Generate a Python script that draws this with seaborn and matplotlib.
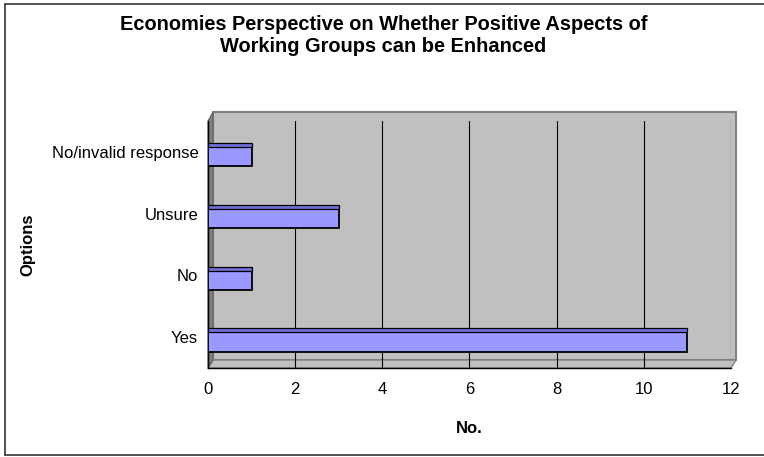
import matplotlib
matplotlib.use('Agg')
import matplotlib.pyplot as plt
import matplotlib.patches as mpatches
import matplotlib.lines as mlines
import seaborn as sns
import pandas as pd
import numpy as np

# chart data
options = ['No/invalid response', 'Unsure', 'No', 'Yes']
counts = [1, 3, 1, 11]
x_ticks = [0, 2, 4, 6, 8, 10, 12]

sns.set_style('white')
plt.rcParams['font.family'] = ['Liberation Sans', 'DejaVu Sans']
plt.rcParams['text.color'] = 'black'
plt.rcParams['axes.labelcolor'] = 'black'
plt.rcParams['xtick.color'] = 'black'
plt.rcParams['ytick.color'] = 'black'

W, H = 764, 457


def fx(x, y):
    """pixel position -> figure fraction"""
    return (x / W, 1 - y / H)


df = pd.DataFrame({'option': options, 'count': counts})

fig = plt.figure(figsize=(W / 100, H / 100), dpi=100)

# chart area border (top, left, bottom)
for a, b in [((5, 4), (764, 4)), ((5, 4), (5, 455)), ((5, 455), (764, 455))]:
    fig.lines.append(mlines.Line2D([fx(*a)[0], fx(*b)[0]], [fx(*a)[1], fx(*b)[1]],
                                   transform=fig.transFigure, color='#333333', linewidth=1.2))

# 3D-ish walls behind the plot
wall = mpatches.Polygon([fx(213, 112), fx(736, 112), fx(736, 360), fx(213, 360)],
                        closed=True, transform=fig.transFigure, facecolor='#C0C0C0',
                        edgecolor='#808080', linewidth=1.5, zorder=-2)
floor = mpatches.Polygon([fx(208, 368), fx(731, 368), fx(736, 360), fx(213, 360)],
                         closed=True, transform=fig.transFigure, facecolor='#C0C0C0',
                         edgecolor='#808080', linewidth=1.0, zorder=-2)
side = mpatches.Polygon([fx(208, 121), fx(213, 112), fx(213, 360), fx(208, 368)],
                        closed=True, transform=fig.transFigure, facecolor='#808080',
                        edgecolor='#606060', linewidth=0.8, zorder=-2)
fig.patches.extend([wall, floor, side])

l, b = fx(208, 368)
ax = fig.add_axes([l, b, 523 / W, 247 / H])
ax.patch.set_alpha(0)

sns.barplot(data=df, x='count', y='option', order=options, orient='h',
            color='#9999FF', edgecolor='black', linewidth=1.3, width=0.31,
            saturation=1, ax=ax, zorder=3)

# nudge bars down a little and add a darker top face for the 3D look
bars = list(ax.patches)
for p in bars:
    p.set_y(p.get_y() + 0.08)
    y0 = p.get_y()
    ax.add_patch(mpatches.Rectangle((0, y0 - 0.065), p.get_width(), 0.065,
                                    facecolor='#7070D8', edgecolor='black',
                                    linewidth=0.9, zorder=3))

ax.set_xlim(0, 12)
ax.set_ylim(len(options) - 0.5, -0.5)
ax.set_xticks(x_ticks)
ax.set_xticklabels([str(t) for t in x_ticks], fontsize=12)
ax.xaxis.grid(True, color='black', linewidth=0.8, zorder=0)
ax.set_axisbelow(True)

ax.tick_params(axis='y', length=0, labelsize=12, pad=7)
ax.set_yticks(np.arange(-0.5, len(options), 1.0), minor=True)
ax.tick_params(axis='y', which='minor', length=5, color='black', width=1)
ax.tick_params(axis='x', length=5, color='black', direction='out', pad=5)

for s in ['top', 'right']:
    ax.spines[s].set_visible(False)
ax.spines['left'].set_color('black')
ax.spines['left'].set_linewidth(1)
ax.spines['bottom'].set_color('black')
ax.spines['bottom'].set_linewidth(1)

ax.set_xlabel('No.', fontsize=12, fontweight='bold')
ax.xaxis.set_label_coords(0.5, -0.215)
ax.set_ylabel('Options', fontsize=12, fontweight='bold')
ax.yaxis.set_label_coords(-0.33, 0.5)

fig.text(0.502, 0.923, 'Economies Perspective on Whether Positive Aspects of\nWorking Groups can be Enhanced',
         ha='center', va='center', fontsize=14.4, fontweight='bold', linespacing=1.2)

fig.savefig('out.png', dpi=100)
